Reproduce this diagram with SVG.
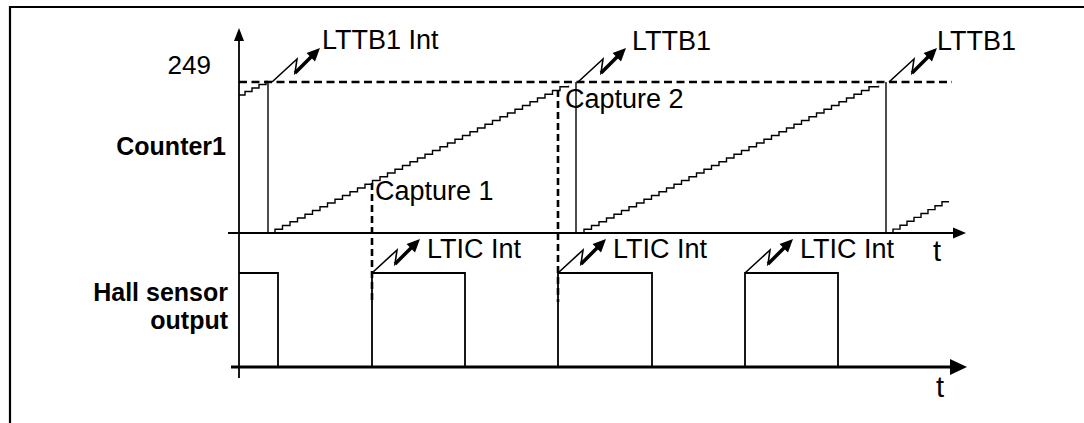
<svg xmlns="http://www.w3.org/2000/svg" width="1084" height="423" viewBox="0 0 1084 423">
<style>
.lbl{font-family:"Liberation Sans",Arial,sans-serif;font-size:27px;fill:#000}
.num{font-family:"Liberation Sans",Arial,sans-serif;font-size:26px;fill:#000}
.bold{font-family:"Liberation Sans",Arial,sans-serif;font-size:25px;font-weight:bold;fill:#000}
.tt{font-family:"Liberation Sans",Arial,sans-serif;font-size:29px;fill:#000}
.thin{fill:none;stroke:#000;stroke-width:1.4}
.axis{fill:none;stroke:#000;stroke-width:1.8}
.hall{fill:none;stroke:#000;stroke-width:1.8}
.dash{fill:none;stroke:#000;stroke-width:2.6;stroke-dasharray:8 4.5}
.vdash{fill:none;stroke:#000;stroke-width:2.6;stroke-dasharray:7 4}
</style>
<defs>
<g id="bolt">
<path d="M0,0 L25,-23 L23,-9 L40,-26" fill="none" stroke="#000" stroke-width="1.6"/>
<path d="M23,-9 L40,-26" fill="none" stroke="#000" stroke-width="3.5"/>
<polygon points="48,-34 43,-20.6 34.6,-29" fill="#000"/>
</g>
</defs>
<rect width="1084" height="423" fill="#fff"/>
<g id="frame">
<path d="M10,423 V7 H1084" fill="none" stroke="#000" stroke-width="2.2"/>
</g>
<g id="counter-axes">
<path class="axis" d="M239,38 V378"/>
<polygon points="239,28 234,41 244,41" fill="#000"/>
<path class="axis" d="M228,233 H955"/>
<polygon points="966,233 953,227.5 953,238.5" fill="#000"/>
<text class="tt" x="933" y="261">t</text>
<text class="num" x="211" y="74" text-anchor="end">249</text>
<text class="bold" x="226" y="155" text-anchor="end">Counter1</text>
</g>
<g id="limit-249">
<path class="dash" d="M239,82 H952"/>
</g>
<g id="counter-ramp">
<path class="thin" d="M239,95 h6v-3.5h7v-3.5h7v-3.5h7v-3h2"/>
<path class="thin" d="M268,82 V233"/>
<path class="thin" d="M275,233 v-3.75h7.5v-3.75h7.5v-3.75h7.5v-3.75h7.5v-3.75h7.5v-3.75h7.5v-3.75h7.5v-3.75h7.5v-3.75h7.5v-3.75h7.5v-3.75h7.5v-3.75h7.5v-3.75h7.5v-3.75h7.5v-3.75h7.5v-3.75h7.5v-3.75h7.5v-3.75h7.5v-3.75h7.5v-3.75h7.5v-3.75h7.5v-3.75h7.5v-3.75h7.5v-3.75h7.5v-3.75h7.5v-3.75h7.5v-3.75h7.5v-3.75h7.5v-3.75h7.5v-3.75h7.5v-3.75h7.5v-3.75h7.5v-3.75h7.5v-3.75h7.5v-3.75h7.5v-3.75h7.5v-3.75h7.5v-3.75h7.5v-3.75h7.5h1v-1"/>
<path class="thin" d="M576,82 V233"/>
<path class="thin" d="M584,233 v-3.75h7.5v-3.75h7.5v-3.75h7.5v-3.75h7.5v-3.75h7.5v-3.75h7.5v-3.75h7.5v-3.75h7.5v-3.75h7.5v-3.75h7.5v-3.75h7.5v-3.75h7.5v-3.75h7.5v-3.75h7.5v-3.75h7.5v-3.75h7.5v-3.75h7.5v-3.75h7.5v-3.75h7.5v-3.75h7.5v-3.75h7.5v-3.75h7.5v-3.75h7.5v-3.75h7.5v-3.75h7.5v-3.75h7.5v-3.75h7.5v-3.75h7.5v-3.75h7.5v-3.75h7.5v-3.75h7.5v-3.75h7.5v-3.75h7.5v-3.75h7.5v-3.75h7.5v-3.75h7.5v-3.75h7.5v-3.75h7.5v-3.75h7.5h2v-1"/>
<path class="thin" d="M886,82 V233"/>
<path class="thin" d="M893,233 v-3.9h7v-3.9h7v-3.9h7v-3.9h7v-3.9h7v-3.9h7v-3.9h7v-3.9h7"/>
</g>
<g id="capture-1">
<path class="vdash" d="M372,183 V302"/>
<text class="lbl" x="375" y="200">Capture 1</text>
</g>
<g id="capture-2">
<path class="vdash" d="M558,90 V302"/>
<text class="lbl" x="565" y="108">Capture 2</text>
</g>
<g id="lttb1-int-1">
<use href="#bolt" x="272" y="82"/>
<text class="lbl" x="322" y="49">LTTB1 Int</text>
</g>
<g id="lttb1-2">
<use href="#bolt" x="578" y="82"/>
<text class="lbl" x="632" y="50">LTTB1</text>
</g>
<g id="lttb1-3">
<use href="#bolt" x="889" y="82"/>
<text class="lbl" x="937" y="50">LTTB1</text>
</g>
<g id="hall-axes">
<path d="M231,367 H953" fill="none" stroke="#000" stroke-width="3.2"/>
<polygon points="967,367 950,359 950,375" fill="#000"/>
<text class="tt" x="936" y="397">t</text>
<text class="bold" x="228" y="301" text-anchor="end">Hall sensor</text>
<text class="bold" x="228" y="329" text-anchor="end">output</text>
</g>
<g id="hall-signal">
<path class="hall" d="M239,273 H278 V367"/>
<path class="hall" d="M372,367 V273 H465 V367"/>
<path class="hall" d="M558,367 V273 H652 V367"/>
<path class="hall" d="M745,367 V273 H838 V367"/>
</g>
<g id="ltic-int-1">
<use href="#bolt" x="372" y="273"/>
<text class="lbl" x="427" y="258">LTIC Int</text>
</g>
<g id="ltic-int-2">
<use href="#bolt" x="558" y="273"/>
<text class="lbl" x="613" y="258">LTIC Int</text>
</g>
<g id="ltic-int-3">
<use href="#bolt" x="745" y="273"/>
<text class="lbl" x="800" y="258">LTIC Int</text>
</g>
</svg>
